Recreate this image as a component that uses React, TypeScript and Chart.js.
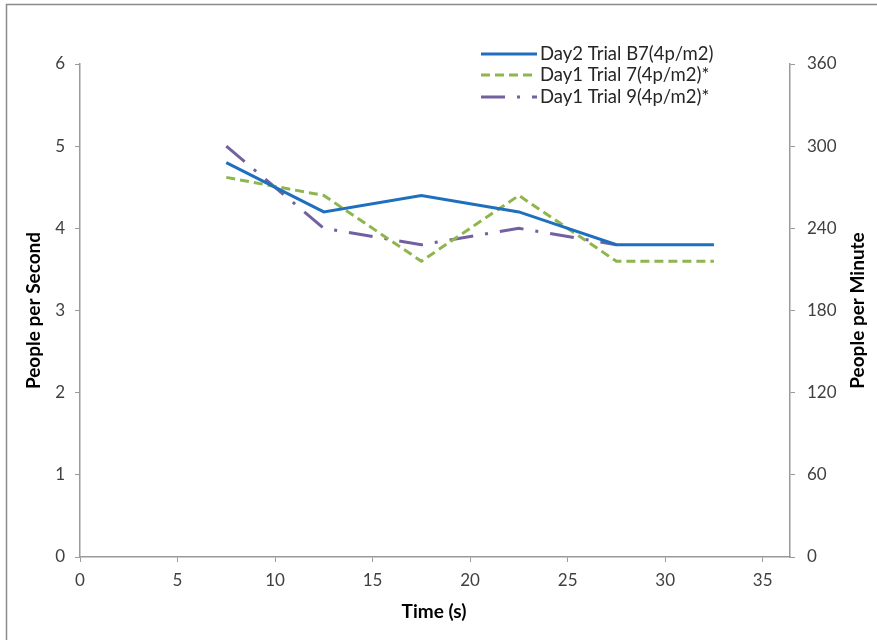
import React, { useEffect, useRef } from "react";
import { Chart, registerables } from "chart.js";

Chart.register(...registerables);

const times = [7.5, 12.5, 17.5, 22.5, 27.5, 32.5];
const day2TrialB7 = [4.8, 4.2, 4.4, 4.2, 3.8, 3.8];
const day1Trial7 = [4.62, 4.4, 3.6, 4.4, 3.6, 3.6];
const day1Trial9 = [5.0, 4.0, 3.8, 4.0, 3.8, null];
const xTickValues = [0, 5, 10, 15, 20, 25, 30, 35];
const seriesLabels = ["Day2 Trial B7(4p/m2)", "Day1 Trial 7(4p/m2)*", "Day1 Trial 9(4p/m2)*"];
const seriesColors = ["#1F6FBF", "#8FB54E", "#7360A0"];
const seriesDashes: number[][] = [[], [9, 5], [24, 12, 3, 12]];
const xTitle = "Time (s)";
const yLeftTitle = "People per Second";
const yRightTitle = "People per Minute";

const FONT = "Lato, 'Open Sans', sans-serif";

const decorPlugin = {
  id: "decor",
  beforeDraw(chart: any) {
    const ctx = chart.ctx;
    ctx.save();
    ctx.fillStyle = "#ffffff";
    ctx.fillRect(0, 0, chart.width, chart.height);
    ctx.strokeStyle = "#8a8a8a";
    ctx.lineWidth = 1.5;
    ctx.beginPath();
    ctx.moveTo(6.5, chart.height + 5);
    ctx.lineTo(6.5, 4.5);
    ctx.lineTo(chart.width + 5, 4.5);
    ctx.stroke();
    ctx.restore();
  },
  afterDraw(chart: any) {
    const ctx = chart.ctx;
    const area = chart.chartArea;
    ctx.save();
    ctx.fillStyle = "#000000";
    ctx.font = `bold 19px ${FONT}`;
    ctx.textAlign = "center";
    ctx.textBaseline = "middle";
    ctx.fillText(xTitle, (area.left + area.right) / 2 - 1, 612);
    ctx.save();
    ctx.translate(34, (area.top + area.bottom) / 2);
    ctx.rotate(-Math.PI / 2);
    ctx.fillText(yLeftTitle, 0, 0);
    ctx.restore();
    ctx.save();
    ctx.translate(858, (area.top + area.bottom) / 2);
    ctx.rotate(-Math.PI / 2);
    ctx.fillText(yRightTitle, 0, 0);
    ctx.restore();
    const rows = [54, 75, 97];
    ctx.font = `18.5px ${FONT}`;
    ctx.textAlign = "left";
    chart.data.datasets.forEach((ds: any, i: number) => {
      const y = rows[i];
      ctx.strokeStyle = ds.borderColor;
      ctx.lineWidth = 3;
      ctx.setLineDash(ds.borderDash || []);
      ctx.beginPath();
      ctx.moveTo(481, y);
      ctx.lineTo(537, y);
      ctx.stroke();
      ctx.setLineDash([]);
      ctx.fillStyle = "#262626";
      ctx.fillText(ds.label, 540, y);
    });
    ctx.restore();
  },
};

export default function App() {
  const ref = useRef<HTMLCanvasElement>(null);
  useEffect(() => {
    if (!ref.current) return;
    const mk = (vals: (number | null)[]) => times.map((t, i) => ({ x: t, y: vals[i] }));
    const allSeries = [day2TrialB7, day1Trial7, day1Trial9];
    const tickFont = { family: FONT, size: 17 };
    const chart = new Chart(ref.current, {
      type: "line",
      data: {
        datasets: allSeries.map((vals, i) => ({
          label: seriesLabels[i],
          data: mk(vals) as any,
          borderColor: seriesColors[i],
          backgroundColor: seriesColors[i],
          borderDash: seriesDashes[i],
          borderWidth: 3,
          pointRadius: 0,
          tension: 0,
          spanGaps: false,
          yAxisID: "y",
        })),
      },
      options: {
        animation: false,
        responsive: false,
        maintainAspectRatio: false,
        layout: { padding: { top: 64, left: 0, right: 0, bottom: 0 } },
        plugins: { legend: { display: false }, tooltip: { enabled: false } },
        scales: {
          x: {
            type: "linear",
            min: 0,
            max: 36.4,
            afterBuildTicks: (axis: any) => {
              axis.ticks = xTickValues.map((v) => ({ value: v }));
            },
            ticks: { color: "#404040", font: tickFont, padding: 8, maxRotation: 0, autoSkip: false },
            grid: { drawOnChartArea: false, drawTicks: true, tickLength: 5, color: "#9a9a9a" },
            border: { color: "#9a9a9a", width: 1.5 },
            afterFit: (s: any) => { s.height = 83; },
          },
          y: {
            position: "left",
            min: 0,
            max: 6,
            ticks: { stepSize: 1, color: "#404040", font: tickFont, padding: 10 },
            grid: { drawOnChartArea: false, drawTicks: true, tickLength: 5, color: "#9a9a9a" },
            border: { color: "#9a9a9a", width: 1.5 },
            afterFit: (s: any) => { s.width = 80; },
          },
          y1: {
            position: "right",
            display: true,
            min: 0,
            max: 360,
            ticks: { stepSize: 60, color: "#404040", font: tickFont, padding: 12 },
            grid: { drawOnChartArea: false, drawTicks: true, tickLength: 5, color: "#9a9a9a" },
            border: { color: "#9a9a9a", width: 1.5 },
            afterFit: (s: any) => { s.width = 87; },
          },
        },
      },
      plugins: [decorPlugin],
    });
    return () => chart.destroy();
  }, []);
  return (
    <div style={{ position: "absolute", left: 0, top: 0, width: 877, height: 640 }}>
      <canvas ref={ref} width={877} height={640} style={{ width: 877, height: 640, display: "block" }} />
    </div>
  );
}
